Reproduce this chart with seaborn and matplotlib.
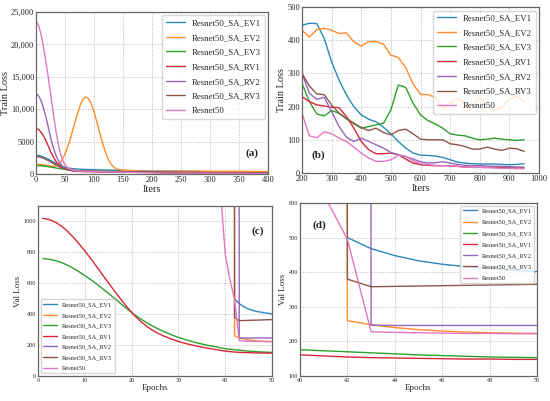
import numpy as np
import pandas as pd
import matplotlib
matplotlib.use("Agg")
import matplotlib.pyplot as plt
import seaborn as sns

# ---------------- data ----------------
series_names = ["Resnet50_SA_EV1", "Resnet50_SA_EV2", "Resnet50_SA_EV3",
                "Resnet50_SA_RV1", "Resnet50_SA_RV2", "Resnet50_SA_RV3", "Resnet50"]
colors = ["#2b88b8", "#ff8c2a", "#2ca02c", "#d62738", "#9467bd", "#8c564b", "#e377c2"]

iters = (list(range(0, 151, 5)) + [160, 170, 180, 190] + list(range(200, 951, 25)))

train_ev1 = [2900, 2850, 2720, 2550, 2340, 2100, 1850, 1600, 1380, 1200, 1050, 940, 860, 810, 770, 740,
             720, 705, 690, 675, 660, 650, 640, 630, 620, 610, 600, 590, 580, 570, 560,
             540, 515, 490, 465,
             445, 451, 450, 405, 335, 280, 235, 200, 175, 162, 154, 138, 118, 95, 75, 60,
             54, 53, 51, 47, 40, 33, 30, 28, 27, 27, 27, 26, 25, 26, 28]
train_ev2 = [1500, 1490, 1450, 1380, 1300, 1220, 1180, 1250, 1550, 2150, 3100, 4300, 5700, 7300, 8900, 10300,
             11400, 11900, 11700, 10900, 9600, 8000, 6300, 4700, 3300, 2200, 1450, 1000, 760, 640, 580,
             530, 500, 475, 450,
             430, 410, 432, 436, 430, 420, 422, 395, 382, 396, 396, 388, 355, 348, 318, 268,
             237, 236, 228, 195, 210, 225, 210, 195, 228, 200, 188, 198, 222, 232, 215]
train_ev3 = [1300, 1290, 1260, 1210, 1150, 1080, 1000, 920, 850, 780, 710, 650, 600, 560, 530, 505,
             490, 478, 466, 455, 445, 436, 428, 420, 412, 404, 396, 388, 380, 372, 365,
             345, 325, 305, 288,
             270, 215, 178, 172, 188, 180, 163, 148, 135, 140, 145, 150, 190, 265, 258, 210,
             175, 158, 148, 135, 118, 114, 112, 105, 100, 102, 105, 102, 100, 98, 100]
train_rv1 = [7000, 6850, 6300, 5550, 4550, 3500, 2600, 1870, 1350, 1030, 780, 620, 520, 460, 420, 395,
             375, 360, 348, 338, 330, 322, 315, 308, 300, 294, 288, 282, 277, 273, 270,
             262, 255, 247, 238,
             230, 215, 205, 202, 198, 197, 170, 135, 95, 70, 58, 58, 60, 55, 42, 30,
             25, 23, 22, 22, 22, 20, 18, 17, 17, 17, 18, 17, 16, 15, 15]
train_rv2 = [12450, 12000, 11000, 9500, 7700, 5700, 4000, 2750, 1850, 1250, 880, 700, 600, 540, 500, 470,
             450, 435, 420, 410, 400, 392, 385, 378, 371, 365, 360, 355, 350, 345, 340,
             332, 324, 316, 308,
             300, 240, 222, 228, 185, 140, 108, 95, 105, 95, 85, 75, 62, 55, 50, 42,
             34, 30, 31, 34, 30, 26, 23, 22, 22, 21, 20, 20, 19, 18, 18]
train_rv3 = [2700, 2650, 2520, 2350, 2130, 1880, 1620, 1370, 1140, 950, 800, 690, 610, 550, 510, 480,
             460, 445, 432, 420, 410, 402, 394, 387, 380, 374, 368, 362, 357, 352, 347,
             337, 327, 318, 309,
             300, 262, 238, 236, 205, 180, 165, 150, 137, 128, 135, 122, 115, 128, 132, 118,
             102, 100, 100, 100, 88, 85, 80, 72, 72, 78, 72, 68, 75, 73, 65]
train_r50 = [23600, 22800, 21000, 18500, 15600, 12500, 9300, 6300, 3900, 2300, 1400, 950, 720, 600, 530, 490,
             460, 440, 420, 405, 390, 375, 360, 350, 340, 330, 320, 310, 300, 295, 290,
             270, 250, 225, 200,
             180, 112, 106, 124, 118, 105, 95, 78, 60, 45, 35, 35, 40, 53, 50, 37,
             28, 25, 23, 22, 22, 20, 18, 17, 17, 16, 15, 14, 14, 13, 13]

epochs_full = list(range(1, 51))
val_ev3 = [760, 757, 752, 744, 734, 721, 706, 689, 670, 650, 629, 607, 584, 560, 536, 511, 486, 460, 435, 411,
           389, 368, 349, 331, 315, 300, 286, 273, 261, 250, 240, 231, 222, 214, 207, 200, 194, 189, 182, 176,
           173, 170, 167, 164, 161, 159, 157, 155, 154, 153]
val_rv1 = [1020, 1015, 1005, 990, 970, 945, 915, 882, 847, 810, 770, 730, 688, 646, 605, 564, 524, 485, 447, 412,
           380, 352, 327, 305, 287, 271, 257, 245, 234, 224, 215, 207, 200, 193, 187, 181, 176, 171, 166, 161,
           158, 155, 153, 152, 151, 150, 149, 149, 148, 148]
epochs_ev1 = list(range(42, 51))
val_ev1 = [500, 468, 448, 433, 423, 416, 411, 406, 402]
epochs_ev2 = list(range(41, 51))
val_ev2 = [60000, 260, 248, 240, 234, 230, 227, 225, 224, 223]
epochs_rv2 = list(range(42, 51))
val_rv2 = [60000, 247, 246, 246, 246, 246, 246, 246, 246]
epochs_rv3 = list(range(41, 51))
val_rv3 = [60000, 380, 358, 359, 360, 361, 362, 363, 364, 365]
epochs_r50 = list(range(38, 51))
val_r50 = [2000, 1200, 790, 625, 495, 228, 226, 225, 224, 223, 223, 222, 222]

a_yticks = [0, 5000, 10000, 15000, 20000, 25000]
a_yticklabels = ["0", "5000", "10,000", "15,000", "20,000", "25,000"]

# ---------------- frames ----------------
train_list = [train_ev1, train_ev2, train_ev3, train_rv1, train_rv2, train_rv3, train_r50]
df_train = pd.concat([pd.DataFrame({"Iters": iters, "Train Loss": v, "Model": n})
                      for n, v in zip(series_names, train_list)], ignore_index=True)
val_x = [epochs_ev1, epochs_ev2, epochs_full, epochs_full, epochs_rv2, epochs_rv3, epochs_r50]
val_y = [val_ev1, val_ev2, val_ev3, val_rv1, val_rv2, val_rv3, val_r50]
df_val = pd.concat([pd.DataFrame({"Epochs": x, "Val Loss": y, "Model": n})
                    for n, x, y in zip(series_names, val_x, val_y)], ignore_index=True)
palette = dict(zip(series_names, colors))

# ---------------- style ----------------
sns.set_theme(style="whitegrid", rc={
    "grid.linestyle": ":", "grid.color": "#b8b8b8", "grid.linewidth": 0.7,
    "axes.edgecolor": "#666666", "axes.linewidth": 0.9,
})
plt.rcParams["font.family"] = ["Liberation Serif", "DejaVu Serif"]
plt.rcParams["mathtext.fontset"] = "stix"

W, H = 550, 401
fig = plt.figure(figsize=(W / 100, H / 100), dpi=100)

def box(l, r, t, b):
    return [l / W, (H - b) / H, (r - l) / W, (b - t) / H]

ax_a = fig.add_axes(box(36, 268, 12, 174))
ax_b = fig.add_axes(box(302, 539, 7, 173))
ax_c = fig.add_axes(box(38, 272, 206, 376))
ax_d = fig.add_axes(box(300, 537, 203, 376))

def draw(ax, df, x, y):
    sns.lineplot(data=df, x=x, y=y, hue="Model", palette=palette, hue_order=series_names,
                 estimator=None, sort=False, linewidth=1.0, ax=ax)

draw(ax_a, df_train, "Iters", "Train Loss")
draw(ax_b, df_train, "Iters", "Train Loss")
draw(ax_c, df_val, "Epochs", "Val Loss")
draw(ax_d, df_val, "Epochs", "Val Loss")

# panel a
ax_a.set_xlim(0, 400)
ax_a.set_ylim(0, 25000)
ax_a.set_xticks(range(0, 401, 50))
ax_a.set_yticks(a_yticks)
ax_a.set_yticklabels(a_yticklabels)
# panel b
ax_b.set_xlim(200, 1000)
ax_b.set_ylim(0, 500)
ax_b.set_xticks(range(200, 1001, 100))
ax_b.set_yticks(range(0, 501, 100))
# panel c
ax_c.set_xlim(0, 50)
ax_c.set_ylim(0, 1100)
ax_c.set_xticks(range(0, 51, 10))
ax_c.set_yticks(range(0, 1001, 200))
# panel d
ax_d.set_xlim(40, 50)
ax_d.set_ylim(100, 600)
ax_d.set_xticks(range(40, 51, 2))
ax_d.set_yticks(range(100, 601, 100))

big = dict(tick=6.0, label=7.5, leg=6.3)
small = dict(tick=4.5, label=6.5, leg=4.6)
for ax, s in [(ax_a, big), (ax_b, big), (ax_c, small), (ax_d, small)]:
    ax.tick_params(axis="both", labelsize=s["tick"], pad=1.2, length=0)
    ax.xaxis.label.set_size(s["label"])
    ax.yaxis.label.set_size(s["label"])
    ax.xaxis.labelpad = 1
    ax.yaxis.labelpad = 1.5
    for sp in ax.spines.values():
        sp.set_color("#666666")
ax_a.yaxis.labelpad = 0.5

leg_kw = dict(frameon=True, fancybox=True, framealpha=0.8, edgecolor="#cccccc", borderaxespad=0.4,
              handlelength=2.2, handletextpad=0.8)
ax_a.legend(loc="upper right", fontsize=big["leg"], labelspacing=0.75, **leg_kw)
ax_b.legend(loc="upper right", fontsize=big["leg"], labelspacing=0.75, **leg_kw)
ax_c.legend(loc="lower left", fontsize=small["leg"], labelspacing=0.8, **leg_kw)
ax_d.legend(loc="upper right", fontsize=small["leg"], labelspacing=0.9, **leg_kw)

ax_a.text(0.93, 0.13, "(a)", transform=ax_a.transAxes, fontsize=8, fontweight="bold", ha="center", va="center")
ax_b.text(0.07, 0.11, "(b)", transform=ax_b.transAxes, fontsize=8, fontweight="bold", ha="center", va="center")
ax_c.text(0.94, 0.85, "(c)", transform=ax_c.transAxes, fontsize=8, fontweight="bold", ha="center", va="center")
ax_d.text(0.08, 0.87, "(d)", transform=ax_d.transAxes, fontsize=8, fontweight="bold", ha="center", va="center")

fig.savefig("out.png", dpi=100)
